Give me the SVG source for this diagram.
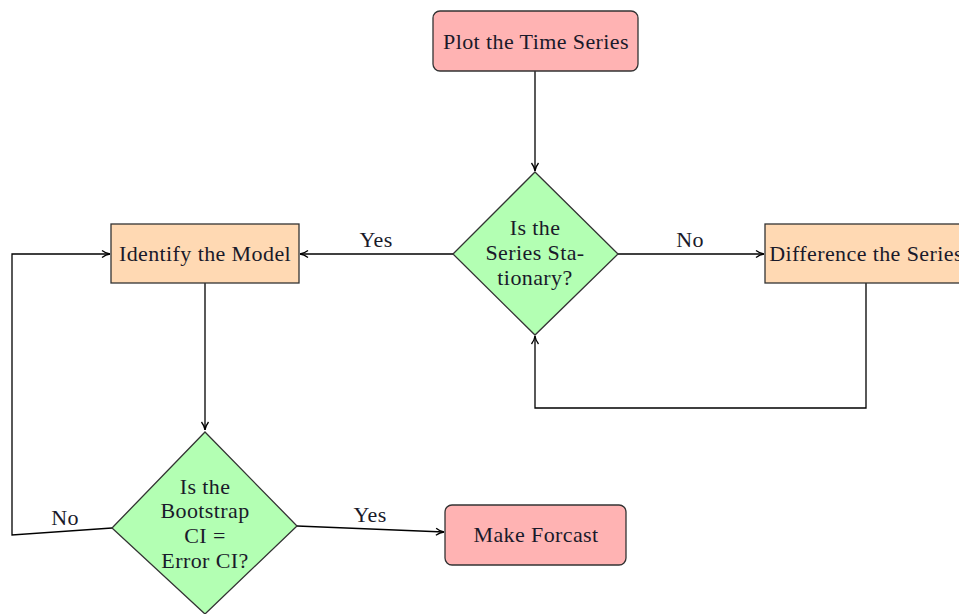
<svg xmlns="http://www.w3.org/2000/svg" width="959" height="614" viewBox="0 0 959 614">
<defs>
<marker id="arr" viewBox="0 0 10 10" refX="9" refY="5" markerWidth="10" markerHeight="10" markerUnits="userSpaceOnUse" orient="auto">
<path d="M1,1.5 Q5,4.5 9,5 Q5,5.5 1,8.5" fill="none" stroke="#000" stroke-width="1.3"/>
</marker>
<style>
text{font-family:"Liberation Serif","DejaVu Serif",serif;font-size:22px;letter-spacing:0.4px;fill:#1a1a2a;text-anchor:middle}
.red{fill:#ffb3b3;stroke:#333;stroke-width:1.3}
.org{fill:#ffd9b3;stroke:#333;stroke-width:1.3}
.grn{fill:#b3ffb3;stroke:#333;stroke-width:1.3}
.c{fill:none;stroke:#000;stroke-width:1.3}
</style>
</defs>
<rect width="959" height="614" fill="#fff"/>
<g id="connectors">
<path class="c" d="M535,71 V171" marker-end="url(#arr)"/>
<path class="c" d="M453,254 H300" marker-end="url(#arr)"/>
<path class="c" d="M618,254 H764" marker-end="url(#arr)"/>
<path class="c" d="M866,283 V408 H535 V336" marker-end="url(#arr)"/>
<path class="c" d="M205,283 V430" marker-end="url(#arr)"/>
<path class="c" d="M112,528 L12,535 V254 H110" marker-end="url(#arr)"/>
<path class="c" d="M297,526 L444,532" marker-end="url(#arr)"/>
<text x="376" y="247">Yes</text>
<text x="690" y="247">No</text>
<text x="65" y="525">No</text>
<text x="370" y="522">Yes</text>
</g>
<g id="plot">
<rect class="red" x="433" y="11" width="205" height="60" rx="7"/>
<text x="536" y="49">Plot the Time Series</text>
</g>
<g id="stationary">
<polygon class="grn" points="535,172 618,254 535,335 453,254"/>
<text x="535" y="235">Is the</text>
<text x="535" y="260">Series Sta-</text>
<text x="535" y="285">tionary?</text>
</g>
<g id="identify">
<rect class="org" x="111" y="224" width="188" height="59"/>
<text x="205" y="261">Identify the Model</text>
</g>
<g id="difference">
<rect class="org" x="765" y="224" width="202" height="59"/>
<text x="866" y="261">Difference the Series</text>
</g>
<g id="bootstrap">
<polygon class="grn" points="205,432 297,526 205,614 112,528"/>
<text x="205" y="494">Is the</text>
<text x="205" y="518">Bootstrap</text>
<text x="205" y="543">CI =</text>
<text x="205" y="568">Error CI?</text>
</g>
<g id="forecast">
<rect class="red" x="445" y="505" width="181" height="60" rx="7"/>
<text x="536" y="542">Make Forcast</text>
</g>
</svg>
